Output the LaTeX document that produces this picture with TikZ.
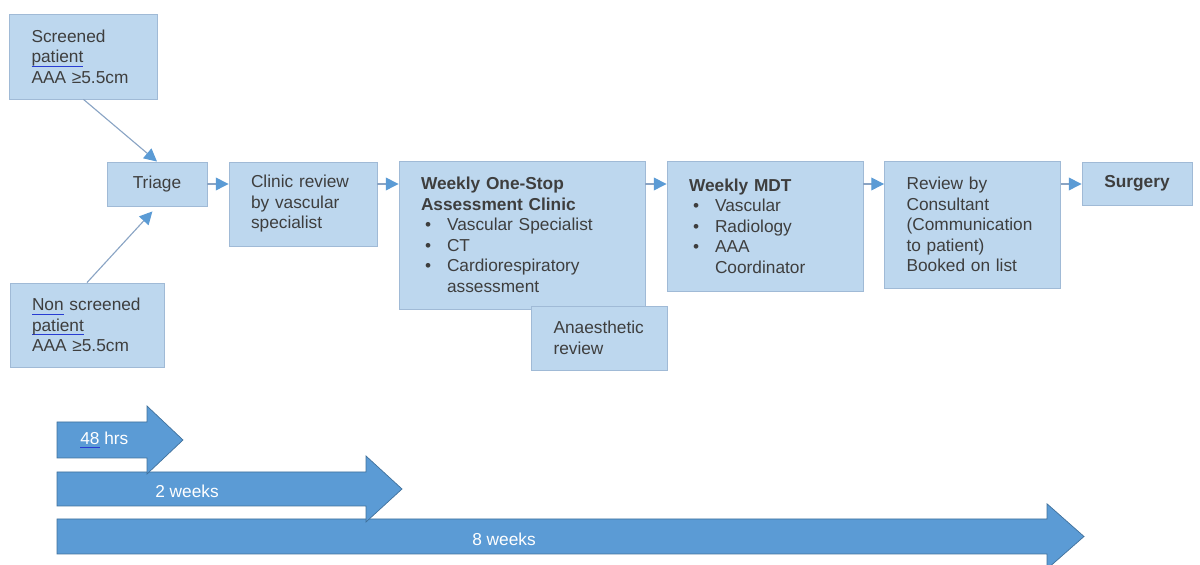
\documentclass[tikz,border=0pt]{standalone}
\usepackage{fontspec}
\setmainfont{Liberation Sans}
\usepackage{xcolor}
\usepackage{tikz}
\usetikzlibrary{arrows.meta,calc}

\definecolor{boxFill}{RGB}{189,215,238}
\definecolor{boxBorder}{RGB}{160,186,214}
\definecolor{textGrey}{RGB}{62,62,62}
\definecolor{lineGrey}{RGB}{138,164,196}
\definecolor{arrowBlue}{RGB}{91,155,213}
\definecolor{arrowEdge}{RGB}{65,113,156}
\definecolor{spellBlue}{RGB}{40,60,210}

% blue spell-check underline
\newsavebox\spellbox
\newcommand\spellmark[1]{\leavevmode\sbox\spellbox{#1}%
    \rlap{\textcolor{spellBlue}{\rule[-0.45ex]{\wd\spellbox}{0.7pt}}}\usebox\spellbox}
% bullet lines inside the boxes
\newcommand\bitem{\hspace*{0.1cm}\makebox[0.55cm][l]{\textbullet}}
\newcommand\bcont{\hspace*{0.65cm}}

\tikzstyle{tsBoxText} = [
    text=textGrey,
    font=\fontsize{12.3}{14.6}\selectfont
]
\tikzstyle{tsBox} = [
    rectangle,
    tsBoxText,
    fill=boxFill,
    draw=boxBorder,
    line width=0.6pt,
    inner xsep=0.55cm,
    inner ysep=0pt,
    align=left]
\tikzstyle{tsFlow} = [
    draw=lineGrey,
    line width=0.8pt,
    -{Triangle[length=0.32cm,width=0.32cm,color=arrowBlue]}
]
\tikzstyle{tsTimeArrow} = [
    fill=arrowBlue,
    draw=arrowEdge,
    line width=0.5pt
]
\tikzstyle{tsTimeLabel} = [
    text=white,
    font=\fontsize{12.3}{14.6}\selectfont,
    anchor=west,
    inner sep=0pt
]

\begin{document}
\begin{tikzpicture}

    \useasboundingbox (0,0) rectangle (30,14.125);

    \node[  tsBox,
            minimum width=3.675cm,
            minimum height=2.125cm,
            text width=2.6cm] (screened) at (2.0875,12.7125)
            {Screened\\\spellmark{patient}\\AAA ≥5.5cm};

    \node[  tsBox,
            minimum width=3.85cm,
            minimum height=2.1cm,
            text width=2.75cm] (nonscreened) at (2.175,6.0)
            {\spellmark{Non} screened\\\spellmark{patient}\\AAA ≥5.5cm};

    \node[  tsBox,
            minimum width=2.5cm,
            minimum height=1.1cm,
            inner xsep=0pt,
            align=center] (triage) at (3.925,9.525) {Triage};

    \node[  tsBox,
            minimum width=3.7cm,
            minimum height=2.1cm,
            text width=2.6cm] (clinic) at (7.575,9.025)
            {Clinic review\\by vascular\\specialist};

    \node[  tsBox,
            minimum width=6.15cm,
            minimum height=3.7cm,
            text width=5.05cm] (onestop) at (13.05,8.25)
            {\textbf{Weekly One-Stop}\\
             \textbf{Assessment Clinic}\\
             \bitem Vascular Specialist\\
             \bitem CT\\
             \bitem Cardiorespiratory\\
             \bcont assessment};

    \node[  tsBox,
            minimum width=3.375cm,
            minimum height=1.6cm,
            text width=2.3cm] (anaesthetic) at (14.9875,5.675)
            {Anaesthetic\\review};

    \node[  tsBox,
            minimum width=4.9cm,
            minimum height=3.25cm,
            text width=3.8cm] (mdt) at (19.125,8.475)
            {\textbf{Weekly MDT}\\
             \bitem Vascular\\
             \bitem Radiology\\
             \bitem AAA\\
             \bcont Coordinator};

    \node[  tsBox,
            minimum width=4.275cm,
            minimum height=3.175cm,
            text width=3.3cm] (review) at (24.3125,8.5125)
            {Review by\\Consultant\\(Communication\\to patient)\\Booked on list};

    \node[  tsBox,
            minimum width=2.75cm,
            minimum height=1.075cm,
            inner xsep=0pt,
            align=center] (surgery) at (28.425,9.5375) {\textbf{Surgery}};

    % pathway connectors
    \draw[tsFlow] (screened.south) -- (triage.north);
    \draw[tsFlow, shorten >=0.17cm] (nonscreened.north) -- (triage.south);
    \draw[tsFlow] (triage.east) -- (clinic.west |- triage.east);
    \draw[tsFlow] (clinic.east |- triage.east) -- (onestop.west |- triage.east);
    \draw[tsFlow] (onestop.east |- triage.east) -- (mdt.west |- triage.east);
    \draw[tsFlow] (mdt.east |- triage.east) -- (review.west |- triage.east);
    \draw[tsFlow] (review.east |- triage.east) -- (surgery.west |- triage.east);

    % time scale arrows
    \draw[tsTimeArrow] (1.425,0.275) -- (26.175,0.275) -- (26.175,-0.1) -- (27.1,0.7125)
        -- (26.175,1.53) -- (26.175,1.15) -- (1.425,1.15) -- cycle;
    \draw[tsTimeArrow] (1.425,1.475) -- (9.15,1.475) -- (9.15,1.075) -- (10.05,1.9)
        -- (9.15,2.725) -- (9.15,2.325) -- (1.425,2.325) -- cycle;
    \draw[tsTimeArrow] (1.425,2.675) -- (3.675,2.675) -- (3.675,2.275) -- (4.575,3.125)
        -- (3.675,3.975) -- (3.675,3.575) -- (1.425,3.575) -- cycle;

    \node[tsTimeLabel] (lblHours) at (2.0,3.125) {\spellmark{48} hrs};
    \node[tsTimeLabel] (lblTwoWeeks) at (3.875,1.85) {2 weeks};
    \node[tsTimeLabel] (lblEightWeeks) at (11.8,0.65) {8 weeks};

\end{tikzpicture}
\end{document}
